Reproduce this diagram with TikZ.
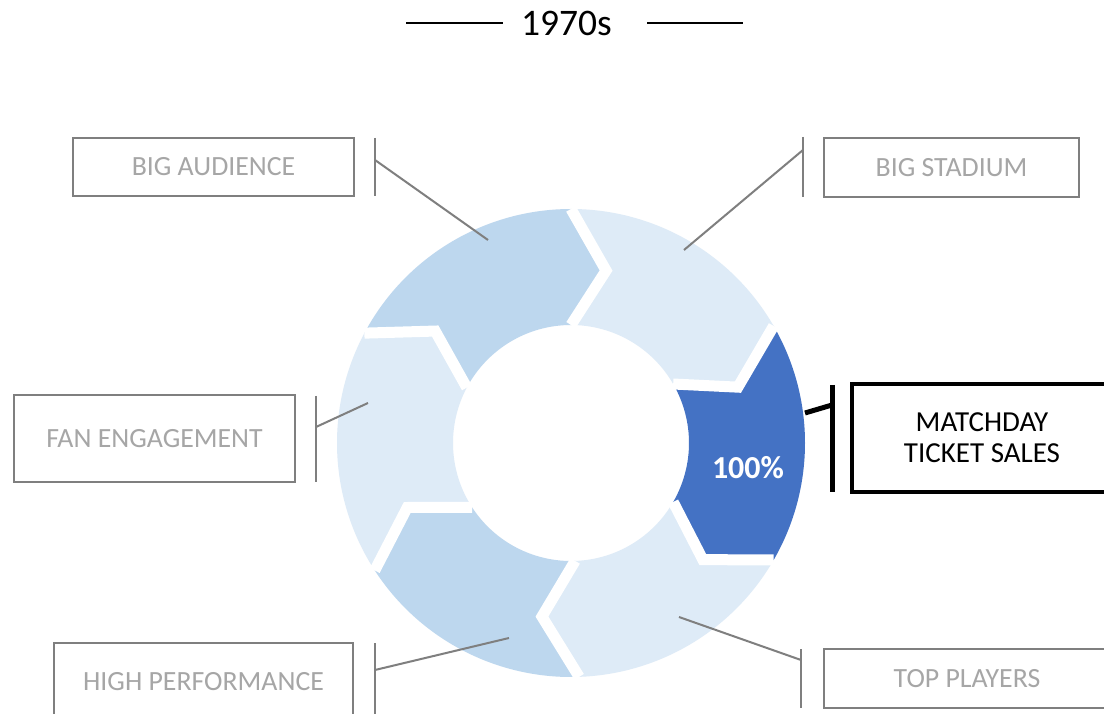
\documentclass[tikz,border=0pt]{standalone}
\usepackage{fontspec}
\setmainfont{Carlito}
\definecolor{segmid}{HTML}{BDD7EE}
\definecolor{seglight}{HTML}{DEEBF7}
\definecolor{segdark}{HTML}{4472C4}
\definecolor{linegray}{HTML}{7F7F7F}
\definecolor{textgray}{HTML}{A6A6A6}
\newcommand\ringseg[3]{%
  \fill[#3] (#1:234) arc[start angle=#1, end angle=#2, radius=234]
    -- ({#2-11.5}:176) -- (#2:118)
    arc[start angle=#2, end angle=#1, radius=118]
    -- ({#1-11.5}:176) -- cycle;}
\newcommand\ringgap[1]{%
  \draw[gapline] (#1:234) -- ({#1-11.5}:176) -- (#1:118);}
\begin{document}
\begin{tikzpicture}[x=1pt,y=1pt,
  gapline/.style={white, line width=11, line cap=square, line join=miter},
  lblbox/.style={draw=linegray, line width=2, text=textgray, inner sep=0,
    font=\fontsize{27.8}{31}\selectfont, align=center},
  keybox/.style={draw=black, line width=4.5, text=black, inner sep=0,
    font=\fontsize{29}{31}\selectfont, align=center},
  leader/.style={draw=linegray, line width=2},
  keyleader/.style={draw=black, line width=5},
  titleline/.style={draw=black, line width=1.5},
  titletext/.style={font=\fontsize{37.5}{42}\selectfont, text=black, inner sep=0},
  pcttext/.style={font=\bfseries\fontsize{32}{36}\selectfont, text=white, inner sep=0}]
\useasboundingbox (0,0) rectangle (1104,713);
\clip (0,0) rectangle (1104,713);
\fill[white] (0,0) rectangle (1104,713);

% title
\node[titletext] (ttl) at (566.5,690) {1970s};
\coordinate (tla) at (406,690); \coordinate (tlb) at (503,690);
\coordinate (tra) at (647,690); \coordinate (trb) at (743,690);
\draw[titleline] (tla) -- (tlb);
\draw[titleline] (tra) -- (trb);

% ring
\begin{scope}[shift={(571,270)}]
  \ringseg{90}{30}{seglight}
  \ringseg{30}{-30}{segdark}
  \ringseg{-30}{-88}{seglight}
  \ringseg{-88}{-147}{segmid}
  \ringseg{-147}{-208}{seglight}
  \ringseg{152}{90}{segmid}
  \ringgap{90}
  \ringgap{30}
  \ringgap{-30}
  \ringgap{-88}
  \ringgap{-147}
  \ringgap{-208}
\end{scope}
\node[pcttext] (pct) at (748,245) {100\%};

% label boxes
\node[lblbox, minimum width=281, minimum height=58] (aud) at (213.5,546) {BIG AUDIENCE};
\node[lblbox, minimum width=255, minimum height=59] (sta) at (951.5,545.5) {BIG STADIUM};
\node[lblbox, minimum width=281, minimum height=87] (fan) at (154.5,274.5) {FAN ENGAGEMENT};
\node[keybox, minimum width=260, minimum height=108] (mtc) at (982,275) {MATCHDAY\\TICKET SALES};
\node[lblbox, minimum width=299, minimum height=78] (hip) at (203.5,31) {HIGH PERFORMANCE};
\node[lblbox, minimum width=286, minimum height=59] (top) at (967,34.5) {TOP PLAYERS};

% brackets and leaders
\coordinate (audb1) at (375,575); \coordinate (audb2) at (375,517);
\coordinate (audl) at (375,553); \coordinate (audp) at (488,473);
\draw[leader] (audb1) -- (audb2);
\draw[leader] (audl) -- (audp);

\coordinate (stab1) at (803,576); \coordinate (stab2) at (803,516);
\coordinate (stal) at (803,563); \coordinate (stap) at (684,463);
\draw[leader] (stab1) -- (stab2);
\draw[leader] (stal) -- (stap);

\coordinate (fanb1) at (316,317); \coordinate (fanb2) at (316,231);
\coordinate (fanl) at (316,286); \coordinate (fanp) at (368,310);
\draw[leader] (fanb1) -- (fanb2);
\draw[leader] (fanl) -- (fanp);

\coordinate (mtcb1) at (832,328); \coordinate (mtcb2) at (832,221);
\coordinate (mtcl) at (832,308); \coordinate (mtcp) at (805,300);
\draw[keyleader] (mtcb1) -- (mtcb2);
\draw[keyleader] (mtcl) -- (mtcp);

\coordinate (hipb1) at (375,70); \coordinate (hipb2) at (375,-8);
\coordinate (hipl) at (375,43); \coordinate (hipp) at (509,75);
\draw[leader] (hipb1) -- (hipb2);
\draw[leader] (hipl) -- (hipp);

\coordinate (topb1) at (801,64); \coordinate (topb2) at (801,5);
\coordinate (topl) at (801,53); \coordinate (topp) at (679,96);
\draw[leader] (topb1) -- (topb2);
\draw[leader] (topl) -- (topp);
\end{tikzpicture}
\end{document}
